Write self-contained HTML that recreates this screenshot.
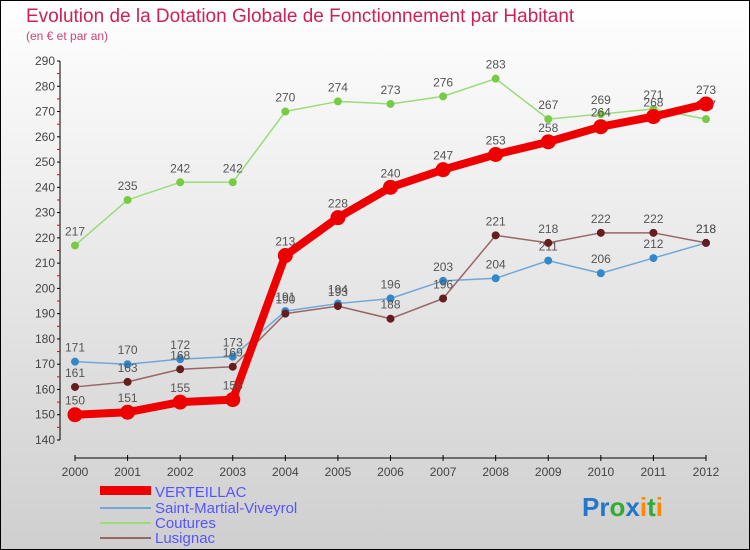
<!DOCTYPE html>
<html><head><meta charset="utf-8"><style>
body{margin:0;width:750px;height:550px;overflow:hidden;font-family:"Liberation Sans",sans-serif}
svg{display:block}
</style></head><body>
<svg id="c" width="750" height="550" xmlns="http://www.w3.org/2000/svg">
<defs><linearGradient id="bg" x1="0" y1="0" x2="0" y2="1"><stop offset="0" stop-color="#ffffff"/><stop offset="1" stop-color="#cfcfcf"/></linearGradient></defs>
<rect x="0.5" y="0.5" width="749" height="549" fill="url(#bg)" stroke="#000"/>
<text x="26" y="22" font-size="19" fill="#cc2255">Evolution de la Dotation Globale de Fonctionnement par Habitant</text>
<text x="26" y="40" font-size="12" fill="#cc4477">(en € et par an)</text>
<g id="axes"></g><g id="series"></g>
<g>
<rect x="100" y="486" width="51" height="9" fill="#ee0000"/>
<text x="155" y="497" font-size="15" fill="#5555ff">VERTEILLAC</text>
<line x1="100" y1="508" x2="151" y2="508" stroke="#6fa8d8" stroke-width="2"/>
<text x="155" y="513" font-size="15" fill="#5555ff">Saint-Martial-Viveyrol</text>
<line x1="100" y1="523" x2="151" y2="523" stroke="#99dd77" stroke-width="2"/>
<text x="155" y="528" font-size="15" fill="#5555ff">Coutures</text>
<line x1="100" y1="538" x2="151" y2="538" stroke="#996666" stroke-width="2"/>
<text x="155" y="543" font-size="15" fill="#5555ff">Lusignac</text>
</g>
<text x="582" y="516" font-size="26" font-weight="bold"><tspan fill="#2277cc">Pr</tspan><tspan fill="#33aa33">o</tspan><tspan fill="#2277cc">x</tspan><tspan fill="#ff8800">i</tspan><tspan fill="#33aa33">t</tspan><tspan fill="#ff8800">i</tspan></text>
</svg>
<script>
const years=[2000,2001,2002,2003,2004,2005,2006,2007,2008,2009,2010,2011,2012];
const yTicks=[140,150,160,170,180,190,200,210,220,230,240,250,260,270,280,290];
const verteillac=[150,151,155,156,213,228,240,247,253,258,264,268,273];
const saintMartial=[171,170,172,173,191,194,196,203,204,211,206,212,218];
const coutures=[217,235,242,242,270,274,273,276,283,267,269,271,267];
const lusignac=[161,163,168,169,190,193,188,196,221,218,222,222,218];
const NS='http://www.w3.org/2000/svg';
function X(i){return 75+i*(706-75)/(years.length-1);}
function Y(v){return 440-(v-140)*(440-61)/150;}
function mk(t,a,p){const e=document.createElementNS(NS,t);for(const k in a)e.setAttribute(k,a[k]);p.appendChild(e);return e;}
const ax=document.getElementById('axes');
let l=mk('line',{x1:60,y1:Y(290),x2:60,y2:Y(140),stroke:'#000'},ax);


l=mk('line',{x1:75,y1:458,x2:706,y2:458,stroke:'#000'},ax);


yTicks.forEach(v=>{mk('line',{x1:57,y1:Y(v),x2:60,y2:Y(v),stroke:'#000'},ax);
 if(v<290)mk('line',{x1:57,y1:Y(v+5),x2:60,y2:Y(v+5),stroke:'#e00'},ax);
 const t=mk('text',{x:55,y:Y(v)+4,'text-anchor':'end','font-size':12,fill:'#444'},ax);t.textContent=v;
 
 });
years.forEach((yr,i)=>{mk('line',{x1:X(i),y1:455,x2:X(i),y2:461,stroke:'#000'},ax);
 const t=mk('text',{x:X(i),y:476,'text-anchor':'middle','font-size':12,fill:'#444'},ax);t.textContent=yr;
 
 });
const sg=document.getElementById('series');
function draw(d,name,col,dot,w,r){const g=mk('g',{},sg);
 
 
 mk('polyline',{points:d.map((v,i)=>X(i)+','+Y(v)).join(' '),fill:'none',stroke:col,'stroke-width':w,'stroke-linejoin':'round'},g);
 d.forEach((v,i)=>{const c=mk('circle',{cx:X(i),cy:Y(v),r:r,fill:dot,stroke:dot},g);
  
  
  const t=mk('text',{x:X(i),y:Y(v)-10,'text-anchor':'middle','font-size':12,fill:'#555'},g);t.textContent=v;
  
  });}
draw(coutures,'coutures','#99dd77','#77cc44',1.5,3.5);
draw(saintMartial,'saint-martial','#6fa8d8','#3388cc',1.5,3.5);
draw(lusignac,'lusignac','#996666','#661d1d',1.5,3.5);
draw(verteillac,'verteillac','#ee0000','#ee0000',8,7);
</script>
</body></html>
